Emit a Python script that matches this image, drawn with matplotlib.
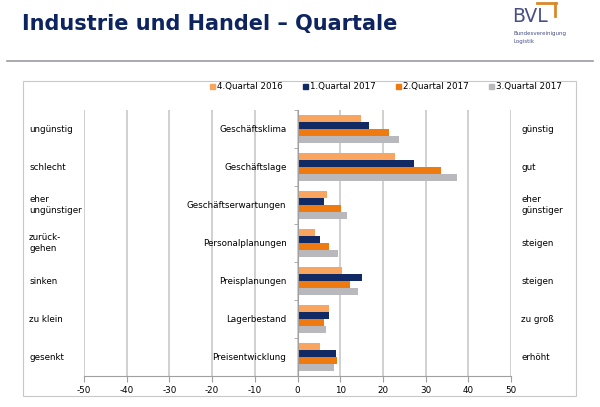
import numpy as np
import matplotlib.pyplot as plt
from matplotlib.patches import Patch, Rectangle
from matplotlib.lines import Line2D
from matplotlib.transforms import blended_transform_factory

# Daten
kategorien = ['Geschäftsklima', 'Geschäftslage', 'Geschäftserwartungen',
              'Personalplanungen', 'Preisplanungen', 'Lagerbestand',
              'Preisentwicklung']
links = ['ungünstig', 'schlecht', 'eher\nungünstiger', 'zurück-\ngehen',
         'sinken', 'zu klein', 'gesenkt']
rechts = ['günstig', 'gut', 'eher\ngünstiger', 'steigen', 'steigen',
          'zu groß', 'erhöht']
serien = ['4.Quartal 2016', '1.Quartal 2017', '2.Quartal 2017', '3.Quartal 2017']
q4_2016 = [14.9, 22.8, 7.0, 4.2, 10.4, 7.3, 5.2]
q1_2017 = [16.8, 27.4, 6.2, 5.3, 15.2, 7.3, 9.0]
q2_2017 = [21.4, 33.6, 10.2, 7.4, 12.4, 6.3, 9.2]
q3_2017 = [23.8, 37.3, 11.5, 9.5, 14.1, 6.6, 8.5]
xticks = [-50, -40, -30, -20, -10, 0, 10, 20, 30, 40, 50]

farben = ['#F9A45F', '#112A63', '#EE7A10', '#B8B8BD']
werte = [q4_2016, q1_2017, q2_2017, q3_2017]
fs = 6.3

fig = plt.figure(figsize=(6, 4.07), dpi=100)
fig.patch.set_facecolor('white')

# Titel und Logo
fig.text(22 / 600, 1 - 24 / 407, 'Industrie und Handel – Quartale',
         fontsize=15, fontweight='bold', color='#0E2461', va='center', ha='left')
fig.text(512 / 600, 1 - 17 / 407, 'BVL', fontsize=13.5, color='#474F86',
         va='center', ha='left')
fig.add_artist(Line2D([537 / 600, 555.5 / 600], [1 - 3 / 407, 1 - 3 / 407],
                      color='#D9892B', lw=2))
fig.add_artist(Line2D([555 / 600, 555 / 600], [1 - 3 / 407, 1 - 16 / 407],
                      color='#D9892B', lw=2))
fig.text(513 / 600, 1 - 33 / 407, 'Bundesvereinigung', fontsize=4,
         color='#474F86', va='center', ha='left')
fig.text(513 / 600, 1 - 41 / 407, 'Logistik', fontsize=4,
         color='#474F86', va='center', ha='left')
fig.add_artist(Line2D([7 / 600, 593 / 600], [1 - 61 / 407, 1 - 61 / 407],
                      color='#9A9CA3', lw=1.2))

# Rahmen des Diagramms
fig.add_artist(Rectangle((23 / 600, 1 - 396 / 407), 553 / 600, 315 / 407,
                         fill=False, edgecolor='#C8C8C8', lw=0.8))

ax = fig.add_axes([84 / 600, 1 - 376 / 407, 427 / 600, 266 / 407])
y = np.arange(len(kategorien))
h = 0.18
for i, (name, w, c) in enumerate(zip(serien, werte, farben)):
    ax.barh(y + (i - 1.5) * h, w, height=h, color=c, label=name, zorder=3)

ax.set_xlim(-50, 50)
ax.set_ylim(len(kategorien) - 0.5, -0.5)
ax.set_xticks(xticks)
ax.set_xticklabels([str(t) for t in xticks], fontsize=fs)
ax.grid(axis='x', color='#C8C8C8', lw=1.2, zorder=0)
ax.tick_params(axis='x', length=4, color='#A0A0A0', pad=3)

ax.spines['top'].set_visible(False)
ax.spines['right'].set_visible(False)
ax.spines['bottom'].set_color('#A0A0A0')
ax.spines['left'].set_position(('data', 0))
ax.spines['left'].set_color('#A0A0A0')
ax.spines['left'].set_zorder(4)

ax.set_yticks(y)
ax.set_yticklabels(kategorien, fontsize=fs)
ax.tick_params(axis='y', length=0, pad=8)
ax.set_yticks(np.arange(len(kategorien) + 1) - 0.5, minor=True)
ax.tick_params(axis='y', which='minor', length=3, color='#A0A0A0')

trans = blended_transform_factory(fig.transFigure, ax.transData)
for yi, (l, r) in enumerate(zip(links, rechts)):
    ax.text(29 / 600, yi, l, transform=trans, fontsize=fs, va='center',
            ha='left', linespacing=1.25)
    ax.text(521 / 600, yi, r, transform=trans, fontsize=fs, va='center',
            ha='left', linespacing=1.25)

handles = [Patch(color=c) for c in farben]
fig.legend(handles, serien, loc='center', bbox_to_anchor=(386 / 600, 1 - 87 / 407),
           ncol=4, frameon=False, fontsize=fs, handlelength=0.55,
           handleheight=0.55, handletextpad=0.25, columnspacing=2.3)

fig.savefig('out.png', dpi=100)
